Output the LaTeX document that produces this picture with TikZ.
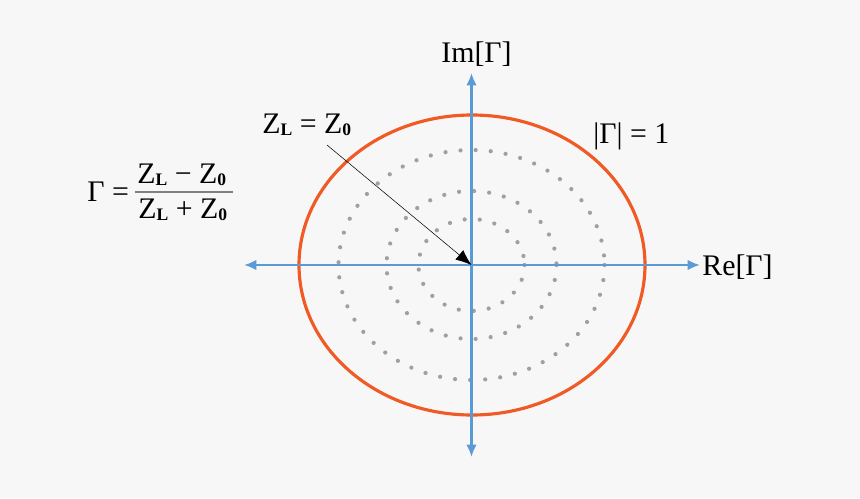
\documentclass[tikz,border=0pt]{standalone}
\usepackage{fontspec}
\setmainfont{Liberation Serif}
\usetikzlibrary{arrows.meta}
\definecolor{bgcol}{RGB}{247,247,247}
\definecolor{unitcol}{RGB}{240,90,36}
\definecolor{axiscol}{RGB}{91,155,213}
\definecolor{dotcol}{RGB}{160,160,160}
\newcommand{\zsub}[1]{\raisebox{-1.5pt}{\fontsize{10}{10}\selectfont\bfseries #1}}
\begin{document}
\begin{tikzpicture}[x=0.02cm,y=-0.02cm,
    axis/.style={axiscol,line width=1.4pt,{Latex[length=7pt,width=6pt]}-{Latex[length=7pt,width=6pt]}},
    ring/.style={dotcol,line width=2.4pt,line cap=round,dash pattern=on 0pt off 8.6pt},
    lbl/.style={font=\fontsize{17}{20}\selectfont,inner sep=0pt,anchor=base west}]
    \fill[bgcol] (0,0) rectangle (860,498);
    \coordinate (o) at (471.5,265);
    \coordinate (xl) at (244,265);
    \coordinate (xr) at (700,265);
    \coordinate (yt) at (471.5,73);
    \coordinate (yb) at (471.5,457);
    \coordinate (tail) at (327,145);
    % reflection circles
    \draw[ring] (o) ellipse [x radius=133, y radius=115];
    \draw[ring] (o) ellipse [x radius=85, y radius=74];
    \draw[ring] (o) ellipse [x radius=53, y radius=46];
    \draw[unitcol,line width=1.8pt] (472,265) ellipse [x radius=173, y radius=150];
    % axes
    \draw[axis] (xl) -- (xr);
    \draw[axis] (yb) -- (yt);
    \draw[line width=0.3pt,-{Latex[length=9pt,width=7pt]}] (tail) -- (o);
    % labels
    \node[lbl] (im) at (441,62) {Im[Γ]};
    \node[lbl] (re) at (702,275) {Re[Γ]};
    \node[lbl] (mag) at (593,143) {|Γ| = 1};
    \node[lbl] (match) at (262,133) {Z\zsub{L} = Z\zsub{0}};
    \node[lbl] (gam) at (87,201.5) {Γ =};
    \node[lbl] (num) at (137,183) {Z\zsub{L} − Z\zsub{0}};
    \node[lbl] (den) at (138,218) {Z\zsub{L} + Z\zsub{0}};
    \draw[gray,line width=0.8pt] (135,192) -- (233,192);
\end{tikzpicture}
\end{document}
